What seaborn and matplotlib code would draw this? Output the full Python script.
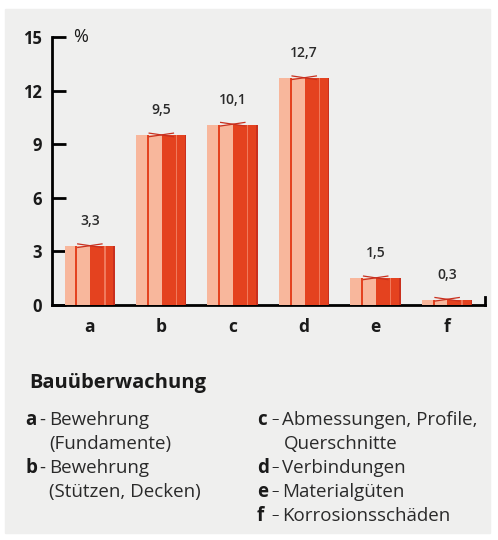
import numpy as np
import matplotlib
matplotlib.use("Agg")
import matplotlib.pyplot as plt
from matplotlib.patches import Rectangle
import seaborn as sns

# data
categories = ["a", "b", "c", "d", "e", "f"]
values = [3.3, 9.5, 10.1, 12.7, 1.5, 0.3]
value_labels = ["3,3", "9,5", "10,1", "12,7", "1,5", "0,3"]
y_ticks = [0, 3, 6, 9, 12, 15]

title = "Bauüberwachung"
legend_left = [("a", "Bewehrung", "(Fundamente)"),
               ("b", "Bewehrung", "(Stützen, Decken)")]
legend_right = [("c", "Abmessungen, Profile,", "Querschnitte"),
                ("d", "Verbindungen", None),
                ("e", "Materialgüten", None),
                ("f", "Korrosionsschäden", None)]

# colours
red = "#e4421f"
red_dark = "#c9301e"
light = "#f8b79c"
panel = "#efefee"

W, H = 498, 540
plt.rcParams["font.family"] = ["Open Sans", "DejaVu Sans"]

fig = plt.figure(figsize=(W / 100, H / 100), dpi=100)
fig.patch.set_facecolor("white")
fig.patches.append(Rectangle((5 / W, 1 - 533 / H), 485 / W, 524 / H,
                             transform=fig.transFigure, color=panel, zorder=-5))


def px(x, y):
    return x / W, 1 - y / H


# axes: x from 52 to 485 px, y from 37 (15) to 305 (0) px
ax = fig.add_axes([52 / W, 1 - 305 / H, 433 / W, 268 / H])
ax.set_zorder(2)
ax.set_facecolor("none")

bar_w = 0.7
sns.barplot(x=categories, y=values, color=red, width=bar_w, ax=ax,
            saturation=1, linewidth=0, zorder=2)
pos = np.arange(len(categories))
ax.bar(pos - bar_w / 4, values, width=bar_w / 2 + 0.01, color=light, linewidth=0, zorder=3)
ax.bar(pos - bar_w * 0.27, values, width=0.025, color=red, linewidth=0, zorder=4)
ax.bar(pos + bar_w * 0.30, values, width=0.02, color="#f07a5c", linewidth=0, zorder=4)
ax.bar(pos + bar_w / 2 - 0.01, values, width=0.02, color=red_dark, linewidth=0, zorder=4)

# little ribbon on top of each bar
for p, v in zip(pos, values):
    ax.plot([p - 0.17, p + 0.17], [v + 0.12, v - 0.08], color=red_dark, lw=0.9, zorder=5)
    ax.plot([p - 0.17, p + 0.17], [v - 0.08, v + 0.12], color=red_dark, lw=0.9, zorder=5)

for p, v, lab in zip(pos, values, value_labels):
    ax.annotate(lab, xy=(p, v), xytext=(0, 18), textcoords="offset points",
                ha="center", va="center", fontsize=10, fontweight="semibold",
                color="#2a2a2a")

ax.set_xlim(-0.53, 5.53)
ax.set_ylim(0, 15)
ax.set_yticks(y_ticks)
ax.set_yticklabels([str(t) for t in y_ticks], fontsize=12, fontweight="bold",
                   color="#1a1a1a")
ax.tick_params(axis="y", left=True, direction="in", length=10, width=2, pad=7,
               color="black")
ax.tick_params(axis="x", bottom=False, length=0, pad=9)
for t in ax.get_xticklabels():
    t.set_fontsize(12.5)
    t.set_fontweight("bold")
    t.set_color("#1a1a1a")
ax.set_xlabel("")
ax.set_ylabel("")

for s in ["top", "right"]:
    ax.spines[s].set_visible(False)
for s in ["left", "bottom"]:
    ax.spines[s].set_visible(True)
    ax.spines[s].set_linewidth(2)
    ax.spines[s].set_color("black")
ax.spines["bottom"].set_zorder(1)
ax.spines["left"].set_zorder(6)
ax.axvline(5.53, ymin=0, ymax=0.03, color="black", lw=2, clip_on=False)

ax.annotate("%", xy=(0, 1), xycoords="axes fraction", xytext=(15, 0),
            textcoords="offset points", ha="left", va="center",
            fontsize=13, color="#1a1a1a")

# legend text block
fig.text(*px(29, 383), title, fontsize=14.5, fontweight="bold",
         color="#1a1a1a", va="center", ha="left")

fs = 13.5
line_h = 24
y0 = 420
for i, (k, desc, cont) in enumerate(legend_left):
    y = y0 + 2 * i * line_h
    fig.text(*px(25, y), k, fontsize=fs, fontweight="bold", va="center", color="#1a1a1a")
    fig.text(*px(42, y), "-", fontsize=fs, va="center", ha="center", color="#2a2a2a")
    fig.text(*px(49, y), desc, fontsize=fs, va="center", color="#2a2a2a")
    fig.text(*px(49, y + line_h), cont, fontsize=fs, va="center", color="#2a2a2a")

y = y0
for k, desc, cont in legend_right:
    fig.text(*px(257, y), k, fontsize=fs, fontweight="bold", va="center", color="#1a1a1a")
    fig.text(*px(275, y), "–", fontsize=fs - 3, va="center", ha="center", color="#2a2a2a")
    fig.text(*px(282, y), desc, fontsize=fs, va="center", color="#2a2a2a")
    y += line_h
    if cont:
        fig.text(*px(284, y), cont, fontsize=fs, va="center", color="#2a2a2a")
        y += line_h

fig.savefig("out.png", dpi=100, facecolor=fig.get_facecolor())
